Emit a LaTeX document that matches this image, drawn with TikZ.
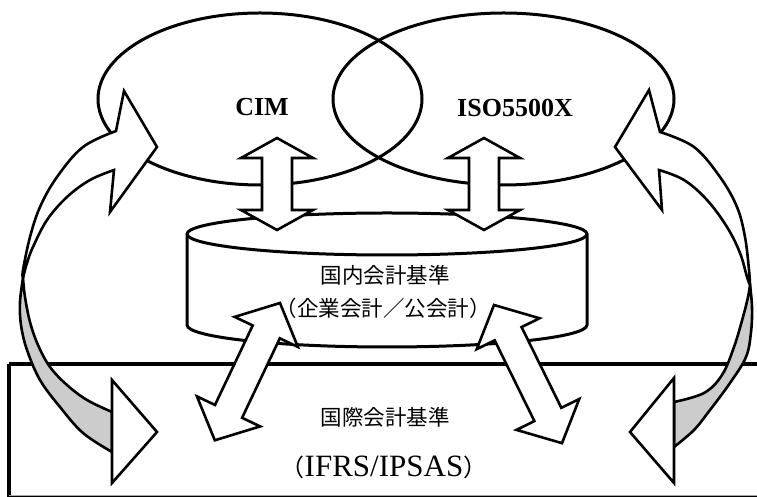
\documentclass[tikz,border=0pt]{standalone}
\usepackage{fontspec}
\setmainfont{Liberation Serif}
\newfontfamily\cjk{Noto Sans CJK JP}
\newcommand\dblarr[7]{%
  \begin{scope}[shift={(#1,#2)}, rotate=#3]
    \draw[blockarr] (0,0) -- (#5,#6) -- (#5,#7) -- ({#4-#5},#7) -- ({#4-#5},#6) -- (#4,0)
      -- ({#4-#5},-#6) -- ({#4-#5},-#7) -- (#5,-#7) -- (#5,-#6) -- cycle;
  \end{scope}}
\begin{document}
\begin{tikzpicture}[x=1pt,y=1pt,
  blockarr/.style={draw=black, line width=2.6pt, fill=white, line join=miter},
  ring/.style={draw=black, line width=3pt},
  band/.style={draw=black, line width=2.6pt, line join=miter},
  lbl/.style={inner sep=0pt, text=black}]
\useasboundingbox (0,0) rectangle (757,497);
\fill[white] (0,0) rectangle (757,497);
\begin{scope}
\clip (0,0) rectangle (757,497);
% bottom frame
\draw[line width=3.5pt, fill=white] (9,133) -- (9,-1) -- (780,-1);
\draw[line width=3.5pt] (9,133) -- (780,133);
\draw[line width=1pt, draw=gray!70] (9,1.5) -- (757,1.5);
\end{scope}
% ellipses
\draw[ring] (260,398) ellipse [x radius=162, y radius=86];
\draw[ring] (503.5,398) ellipse [x radius=170.5, y radius=86];
% cylinder
\draw[ring, fill=white] (187,263) -- (187,172)
  arc[start angle=180, end angle=360, x radius=200, y radius=22] -- (587,263)
  arc[start angle=0, end angle=180, x radius=200, y radius=21] -- cycle;
\draw[ring] (187,263) arc[start angle=180, end angle=360, x radius=200, y radius=21];
% texts
\node[lbl] (cim) at (262,390) {\fontsize{26}{26}\selectfont\bfseries CIM};
\node[lbl] (iso) at (515,389) {\fontsize{26}{26}\selectfont\bfseries ISO5500X};
\node[lbl] (dom1) at (385,222) {\cjk\fontsize{21.5}{21.5}\selectfont 国内会計基準};
\node[lbl] (dom2) at (383,189) {\cjk\fontsize{21.5}{21.5}\selectfont （企業会計／公会計）};
\node[lbl] (int1) at (385,80) {\cjk\fontsize{21.5}{21.5}\selectfont 国際会計基準};
\node[lbl] (int2) at (384,30) {{\cjk\fontsize{24}{24}\selectfont （}{\fontsize{31}{31}\selectfont IFRS/IPSAS}{\cjk\fontsize{24}{24}\selectfont ）}};
% vertical double arrows
\dblarr{277}{359}{-90}{92}{20}{36}{15}
\dblarr{484}{359}{-90}{92}{20}{36}{15}
% diagonal double arrows
\dblarr{280}{194}{-115.4}{152}{32}{35}{15}
\dblarr{494}{192}{-63.8}{154}{32}{35}{15}
% left curved arrows
\draw[band, fill=gray!40]
  plot[smooth, tension=0.6] coordinates {(23,219) (20,195) (21,172) (27,147) (40,117) (60,90) (83,64) (112,45)}
  -- (112,85)
  -- plot[smooth, tension=0.6] coordinates {(112,85) (87,97) (67,112) (50,130) (38,152) (30,175) (25,200) (23,219)} -- cycle;
\draw[band, fill=white] (112,117) -- (157,65) -- (112,14) -- cycle;
\draw[band, fill=white]
  plot[smooth, tension=0.6] coordinates {(23,219) (23,227) (30,260) (40,290) (57,320) (83,350) (116,366)}
  -- (124,406) -- (157,350) -- (110,285) -- (114,327)
  -- plot[smooth, tension=0.6] coordinates {(114,327) (90,317) (67,300) (47,277) (33,250) (27,234) (23,219)} -- cycle;
% right curved arrows
\draw[band, fill=gray!40]
  plot[smooth, tension=0.6] coordinates {(750,212) (752,190) (751,165) (746,140) (730,114) (710,87) (694,67) (674,50)}
  -- (674,95)
  -- plot[smooth, tension=0.6] coordinates {(674,95) (704,104) (722,122) (734,150) (743,180) (748,200) (750,212)} -- cycle;
\draw[band, fill=white] (674,119) -- (630,65) -- (674,14) -- cycle;
\draw[band, fill=white]
  plot[smooth, tension=0.6] coordinates {(750,212) (749,227) (745,260) (737,290) (720,320) (694,350) (660,365)}
  -- (649,407) -- (615,350) -- (662,287) -- (659,327)
  -- plot[smooth, tension=0.6] coordinates {(659,327) (684,317) (707,297) (727,270) (740,244) (747,220) (750,212)} -- cycle;
\end{tikzpicture}
\end{document}
